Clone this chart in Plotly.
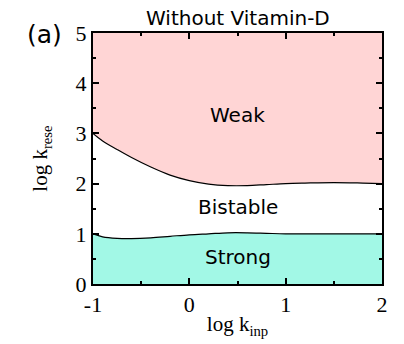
import plotly.graph_objects as go

# log k_inp sample points for the phase boundaries
x_upper = [-1.0, -0.9, -0.75, -0.6, -0.4, -0.2, 0.0, 0.2, 0.4, 0.6, 0.8, 1.0, 1.2, 1.5, 1.8, 2.0]
y_upper = [3.0, 2.85, 2.68, 2.52, 2.33, 2.17, 2.06, 1.99, 1.96, 1.96, 1.98, 2.0, 2.01, 2.02, 2.01, 2.0]
x_lower = [-1.0, -0.9, -0.75, -0.6, -0.4, -0.2, 0.0, 0.2, 0.4, 0.6, 0.8, 1.0, 1.5, 2.0]
y_lower = [1.0, 0.94, 0.91, 0.905, 0.92, 0.95, 0.98, 1.0, 1.02, 1.02, 1.01, 1.0, 1.0, 1.0]
y_top = 5.0
region_labels = ["Weak", "Bistable", "Strong"]
region_x = [0.5, 0.5, 0.5]
region_y = [3.36, 1.53, 0.54]

pink = "#ffd5d5"
cyan = "#a2f8e6"

fig = go.Figure()
# Strong region (cyan)
fig.add_trace(go.Scatter(x=x_lower, y=y_lower, mode="lines", line=dict(width=0, shape="spline"),
                         fill="tozeroy", fillcolor=cyan, hoverinfo="skip", showlegend=False))
# Weak region (pink)
fig.add_trace(go.Scatter(x=x_upper, y=y_upper, mode="lines", line=dict(width=0, shape="spline"),
                         hoverinfo="skip", showlegend=False))
fig.add_trace(go.Scatter(x=x_upper, y=[y_top] * len(x_upper), mode="lines", line=dict(width=0),
                         fill="tonexty", fillcolor=pink, hoverinfo="skip", showlegend=False))
# Boundary lines
fig.add_trace(go.Scatter(x=x_upper, y=y_upper, mode="lines",
                         line=dict(color="black", width=1.2, shape="spline"), showlegend=False))
fig.add_trace(go.Scatter(x=x_lower, y=y_lower, mode="lines",
                         line=dict(color="black", width=1.2, shape="spline"), showlegend=False))

for t, xx, yy in zip(region_labels, region_x, region_y):
    fig.add_annotation(x=xx, y=yy, text=t, showarrow=False,
                       font=dict(family="DejaVu Sans", size=20, color="black"))

fig.add_annotation(xref="paper", yref="paper", x=0.5, y=1.0, yshift=1, yanchor="bottom",
                   text="Without Vitamin-D", showarrow=False,
                   font=dict(family="DejaVu Sans", size=20, color="black"))
fig.add_annotation(xref="paper", yref="paper", x=-0.1, y=1.0, yshift=-1, xanchor="right",
                   yanchor="middle", text="(a)", showarrow=False,
                   font=dict(family="DejaVu Sans", size=25, color="black"))

serif = "Liberation Serif"
fig.update_xaxes(range=[-1, 2], tickvals=[-1, 0, 1, 2], ticktext=["-1", "0", "1", "2"],
                 ticks="inside", ticklen=6, tickwidth=1.5, tickcolor="black",
                 minor=dict(dtick=0.5, ticks="inside", ticklen=3, tickwidth=1.5, tickcolor="black"),
                 showline=True, linewidth=2, linecolor="black", mirror="allticks",
                 showgrid=False, zeroline=False,
                 tickfont=dict(family=serif, size=22, color="black"),
                 title=dict(text="log k<sub>inp</sub>", font=dict(family=serif, size=21, color="black"),
                            standoff=0))
fig.update_yaxes(range=[0, 5], tickvals=[0, 1, 2, 3, 4, 5],
                 ticks="inside", ticklen=6, tickwidth=1.5, tickcolor="black",
                 minor=dict(dtick=0.5, ticks="inside", ticklen=3, tickwidth=1.5, tickcolor="black"),
                 showline=True, linewidth=2, linecolor="black", mirror="allticks",
                 showgrid=False, zeroline=False,
                 tickfont=dict(family=serif, size=22, color="black"),
                 title=dict(text="log k<sub>rese</sub>", font=dict(family=serif, size=21, color="black"),
                            standoff=22))

fig.update_layout(width=404, height=344, margin=dict(l=93, r=22, t=33, b=52),
                  plot_bgcolor="white", paper_bgcolor="white")

fig.write_html("out.html")
